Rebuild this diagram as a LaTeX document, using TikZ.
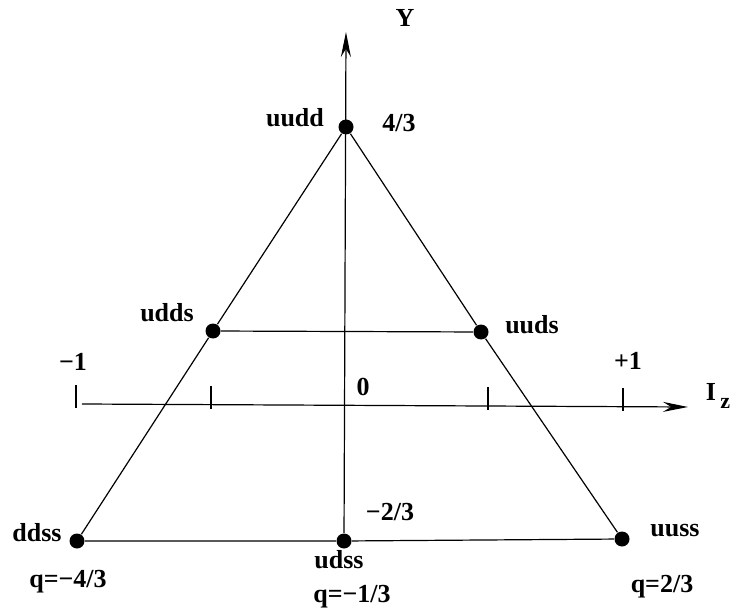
\documentclass[tikz,border=0pt]{standalone}
\usepackage{fontspec}
\setmainfont{Liberation Serif}
\usetikzlibrary{arrows.meta}
\begin{document}
\begin{tikzpicture}[x=1pt, y=-1pt, line width=1.2pt,
  every node/.style={font=\fontsize{26}{30}\selectfont\bfseries, inner sep=0pt},
  dot/.style={circle, fill, minimum size=15pt},
  axisarrow/.style={-{Stealth[length=25pt, width=10pt]}}]
\useasboundingbox (0,0) rectangle (736,612);
% quark states
\node[dot] at (346,127) (uudd) {};
\node[dot] at (213,331) (udds) {};
\node[dot] at (481,332) (uuds) {};
\node[dot] at (77,541) (ddss) {};
\node[dot] at (344,541) (udss) {};
\node[dot] at (622,539) (uuss) {};

\node at (295,118) (uuddlbl) {uudd};
\node at (167,313) (uddslbl) {udds};
\node at (532,325) (uudslbl) {uuds};
\node at (37,533) (ddsslbl) {ddss};
\node at (339,560) (udsslbl) {udss};
\node at (675,531) (uusslbl) {uuss};

\node at (68,582) (qddss) {q=−4/3};
\node at (352,597) (qudss) {q=−1/3};
\node at (662,587) (quuss) {q=2/3};

\node at (399,123) (yup) {4/3};
\node at (390,512) (ydown) {−2/3};

% edges
\draw (uudd) -- (udds) -- (ddss) -- (udss) -- (uuss) -- (uuds) -- (uudd);
\draw (udds) -- (uuds);

% axes
\coordinate (ytip) at (346,32);
\coordinate (izstart) at (82,404);
\coordinate (iztip) at (688,407);
\draw[axisarrow] (udss) -- (ytip);
\draw[axisarrow] (izstart) -- (iztip);
\foreach \tx/\ty in {76/404, 211/405, 488/406, 623/407}
  \draw (\tx,\ty-19) -- (\tx,\ty+4);

\node at (405,18) (ylbl) {Y};
\node at (718,396) (izlbl) {I\,\raisebox{-8pt}{\fontsize{22}{26}\selectfont z}};
\node at (73,362) (mone) {−1};
\node at (363,387) (zero) {0};
\node at (628,361) (pone) {+1};
\end{tikzpicture}
\end{document}
